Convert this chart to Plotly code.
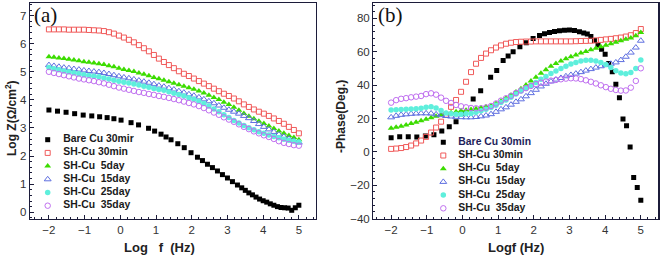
import plotly.graph_objects as go

W, H = 661, 257

# ---------------- data ----------------
logf = [-2.00, -1.86, -1.72, -1.58, -1.44, -1.30, -1.16, -1.02, -0.88, -0.74,
        -0.60, -0.46, -0.32, -0.18, -0.04, 0.10, 0.24, 0.38, 0.52, 0.66,
        0.80, 0.94, 1.08, 1.22, 1.36, 1.50, 1.64, 1.78, 1.92, 2.06,
        2.20, 2.34, 2.48, 2.62, 2.76, 2.90, 3.04, 3.18, 3.32, 3.46,
        3.60, 3.74, 3.88, 4.02, 4.16, 4.30, 4.44, 4.58, 4.72, 4.86, 5.00]

logf_bare = [-2.00, -1.76, -1.52, -1.28, -1.04, -0.80, -0.58, -0.37, -0.18, 0.02,
             0.30, 0.51, 0.79, 0.96, 1.14, 1.28, 1.42, 1.61, 1.79, 1.98,
             2.16, 2.30, 2.44, 2.58, 2.72, 2.86, 3.00, 3.14, 3.28, 3.40,
             3.50, 3.60, 3.70, 3.80, 3.90, 4.00, 4.10, 4.20, 4.30, 4.40,
             4.50, 4.60, 4.70, 4.80, 4.90, 5.00]

# (a) Log Z
z_bare = [3.64, 3.60, 3.56, 3.51, 3.46, 3.43, 3.40, 3.37, 3.33, 3.28,
          3.19, 3.11, 2.99, 2.89, 2.78, 2.68, 2.58, 2.44, 2.30, 2.12,
          1.96, 1.84, 1.71, 1.59, 1.47, 1.34, 1.22, 1.09, 0.97, 0.87,
          0.78, 0.69, 0.62, 0.54, 0.47, 0.41, 0.36, 0.30, 0.25, 0.20,
          0.17, 0.16, 0.15, 0.07, 0.16, 0.25]
z_30min = [6.51, 6.51, 6.51, 6.51, 6.50, 6.50, 6.50, 6.50, 6.49, 6.48,
           6.47, 6.45, 6.41, 6.36, 6.29, 6.22, 6.14, 6.05, 5.95, 5.84,
           5.73, 5.60, 5.47, 5.35, 5.24, 5.13, 5.02, 4.93, 4.85, 4.76,
           4.67, 4.58, 4.49, 4.40, 4.31, 4.22, 4.14, 4.05, 3.95, 3.84,
           3.75, 3.66, 3.58, 3.51, 3.43, 3.34, 3.25, 3.15, 3.04, 2.93, 2.81]
z_5day = [5.54, 5.52, 5.49, 5.47, 5.45, 5.42, 5.39, 5.36, 5.34, 5.31,
          5.29, 5.26, 5.22, 5.18, 5.13, 5.08, 5.05, 5.01, 4.96, 4.91,
          4.86, 4.80, 4.75, 4.70, 4.65, 4.59, 4.54, 4.49, 4.43, 4.38,
          4.32, 4.25, 4.17, 4.09, 4.01, 3.92, 3.84, 3.74, 3.63, 3.52,
          3.42, 3.33, 3.24, 3.16, 3.07, 2.98, 2.89, 2.81, 2.73, 2.66, 2.58]
z_15day = [5.24, 5.21, 5.18, 5.15, 5.13, 5.10, 5.08, 5.05, 5.03, 5.01,
           4.99, 4.96, 4.92, 4.88, 4.84, 4.80, 4.77, 4.73, 4.69, 4.65,
           4.61, 4.56, 4.51, 4.47, 4.42, 4.37, 4.31, 4.26, 4.20, 4.15,
           4.09, 4.02, 3.95, 3.88, 3.80, 3.72, 3.65, 3.58, 3.51, 3.43,
           3.35, 3.25, 3.14, 3.04, 2.95, 2.86, 2.77, 2.69, 2.62, 2.55, 2.48]
z_25day = [5.15, 5.11, 5.07, 5.03, 5.00, 4.97, 4.93, 4.90, 4.87, 4.84,
           4.82, 4.78, 4.74, 4.70, 4.66, 4.63, 4.60, 4.57, 4.53, 4.49,
           4.45, 4.41, 4.37, 4.34, 4.29, 4.24, 4.19, 4.14, 4.08, 4.02,
           3.95, 3.87, 3.78, 3.68, 3.58, 3.47, 3.37, 3.27, 3.18, 3.09,
           3.01, 2.94, 2.87, 2.81, 2.75, 2.70, 2.65, 2.60, 2.56, 2.53, 2.50]
z_35day = [5.00, 4.96, 4.92, 4.88, 4.84, 4.80, 4.76, 4.73, 4.70, 4.67,
           4.63, 4.59, 4.54, 4.49, 4.44, 4.40, 4.36, 4.32, 4.28, 4.25,
           4.21, 4.18, 4.14, 4.11, 4.07, 4.03, 3.99, 3.94, 3.89, 3.84,
           3.78, 3.71, 3.63, 3.55, 3.47, 3.38, 3.30, 3.22, 3.13, 3.04,
           2.96, 2.88, 2.81, 2.74, 2.68, 2.61, 2.53, 2.47, 2.43, 2.39, 2.37]

# (b) -Phase
ph_bare = [8.5, 9.1, 9.1, 8.9, 9.5, 10.3, 12.5, 15.1, 18.1, 23.1,
           31.7, 36.7, 44.7, 48.7, 54.7, 57.4, 60.0, 63.0, 65.4, 68.0,
           69.8, 70.8, 71.6, 72.2, 72.6, 72.9, 73.0, 72.7, 72.0, 71.3,
           70.6, 69.2, 66.8, 64.0, 61.5, 58.5, 53.0, 48.0, 40.5, 32.5,
           19.7, 15.7, 3.0, -15.4, -21.4, -29.0]
ph_30min = [1.8, 2.0, 2.3, 2.9, 3.8, 5.1, 6.8, 9.0, 11.6, 14.6,
            18.1, 22.3, 27.0, 31.1, 36.0, 42.0, 47.8, 52.8, 56.3, 58.9,
            60.9, 62.5, 63.8, 64.8, 65.4, 65.8, 66.0, 66.1, 66.1, 66.2,
            66.2, 66.2, 66.2, 66.2, 66.2, 66.2, 66.2, 66.3, 66.4, 66.5,
            66.6, 66.8, 67.1, 67.4, 67.7, 68.1, 68.5, 69.1, 69.9, 71.2, 73.6]
ph_5day = [14.1, 14.7, 15.3, 16.1, 17.0, 17.8, 18.7, 19.6, 20.5, 21.4,
           22.2, 23.0, 23.5, 24.1, 24.6, 25.0, 25.4, 25.9, 26.4, 27.0,
           27.7, 29.0, 30.5, 32.1, 33.9, 35.9, 37.9, 40.1, 42.4, 44.7,
           47.1, 49.2, 51.3, 53.0, 54.5, 55.8, 57.0, 58.1, 59.2, 60.2,
           61.2, 62.1, 63.0, 63.9, 64.8, 65.7, 66.6, 67.5, 68.3, 69.6, 71.6]
ph_15day = [20.7, 21.6, 22.2, 22.5, 22.8, 23.0, 23.1, 23.1, 23.0, 22.5,
            22.0, 21.5, 21.2, 21.0, 20.8, 20.7, 20.7, 20.9, 21.3, 21.8,
            22.6, 24.0, 25.5, 26.7, 28.3, 30.0, 31.5, 33.3, 35.2, 37.2,
            39.2, 40.8, 42.2, 43.3, 44.3, 45.3, 46.1, 46.9, 47.8, 48.7,
            49.6, 50.5, 51.3, 52.0, 52.8, 53.6, 55.0, 57.0, 59.5, 62.5, 66.6]
ph_25day = [25.1, 25.2, 25.4, 25.5, 25.7, 25.9, 26.1, 26.7, 27.0, 26.3,
            24.8, 23.3, 22.8, 22.5, 22.6, 22.8, 23.0, 23.7, 24.6, 25.6,
            26.6, 27.9, 29.6, 31.1, 32.8, 34.7, 36.5, 38.2, 39.8, 41.6,
            43.5, 45.2, 46.9, 48.4, 49.9, 51.3, 52.6, 53.6, 54.4, 54.9,
            54.9, 54.5, 53.6, 52.3, 50.5, 48.6, 47.3, 46.8, 47.5, 50.0, 55.0]
ph_35day = [29.5, 31.0, 31.8, 32.2, 32.7, 33.1, 33.5, 34.6, 35.1, 34.3,
            32.5, 30.6, 29.3, 28.1, 27.3, 26.7, 26.3, 26.1, 26.1, 26.6,
            27.5, 29.0, 30.7, 32.1, 33.6, 35.3, 36.8, 38.2, 39.5, 40.6,
            41.4, 42.1, 42.7, 43.1, 43.5, 43.9, 44.1, 44.0, 43.6, 42.9,
            42.0, 41.0, 39.9, 38.8, 37.8, 37.1, 36.7, 36.8, 38.5, 42.5, 50.1]

names_a = ["Bare Cu 30mir", "SH-Cu 30min", "SH-Cu\u00a0 5day",
           "SH-Cu\u00a0 15day", "SH-Cu\u00a0 25day", "SH-Cu\u00a0 35day"]
names_b = ["Bare Cu 30min", "SH-Cu 30min", "SH-Cu\u00a0 5day",
           "SH-Cu\u00a0 15day", "SH-Cu\u00a0 25day", "SH-Cu\u00a0 35day"]
x_ticks = [-2, -1, 0, 1, 2, 3, 4, 5]
ya_ticks = [0, 1, 2, 3, 4, 5, 6, 7]
yb_ticks = [-40, -20, 0, 20, 40, 60, 80]

# ---------------- styles ----------------
styles = [
    dict(symbol="square", color="#000000", size=5, line=dict(width=0)),
    dict(symbol="square-open", color="#f05a5a", size=5, line=dict(width=1)),
    dict(symbol="triangle-up", color="#3cdc00", size=6, line=dict(width=0)),
    dict(symbol="triangle-up-open", color="#5f6fe0", size=6, line=dict(width=1)),
    dict(symbol="circle", color="#5eefdc", size=5.5, line=dict(width=0)),
    dict(symbol="circle-open", color="#c070f0", size=5.5, line=dict(width=1)),
]

series_a = [(logf_bare, z_bare), (logf, z_30min), (logf, z_5day),
            (logf, z_15day), (logf, z_25day), (logf, z_35day)]
series_b = [(logf_bare, ph_bare), (logf, ph_30min), (logf, ph_5day),
            (logf, ph_15day), (logf, ph_25day), (logf, ph_35day)]

fig = go.Figure()

for (xs, ys), st, nm in zip(series_a, styles, names_a):
    fig.add_trace(go.Scatter(x=xs, y=ys, mode="markers", name=nm, marker=st,
                             xaxis="x", yaxis="y", showlegend=False))
for (xs, ys), st, nm in zip(series_b, styles, names_b):
    fig.add_trace(go.Scatter(x=xs, y=ys, mode="markers", name=nm, marker=st,
                             xaxis="x2", yaxis="y2", showlegend=False))

# ---------------- legends (row index on hidden overlay axes) ----------------
rows = list(range(len(names_a)))
for i, st in enumerate(styles):
    fig.add_trace(go.Scatter(x=[0], y=[rows[i]], mode="markers", marker=st,
                             xaxis="x3", yaxis="y3", showlegend=False, hoverinfo="skip"))
    fig.add_trace(go.Scatter(x=[0], y=[rows[i]], mode="markers", marker=st,
                             xaxis="x4", yaxis="y4", showlegend=False, hoverinfo="skip"))
fig.add_trace(go.Scatter(x=[1] * len(rows), y=rows, mode="text",
                         text=["<b>%s</b>" % n for n in names_a],
                         textposition="middle right",
                         textfont=dict(family="Liberation Sans, Arial", size=10.4,
                                       color="#1a1a1a"),
                         cliponaxis=False,
                         xaxis="x3", yaxis="y3", showlegend=False, hoverinfo="skip"))
fig.add_trace(go.Scatter(x=[1] * len(rows), y=rows, mode="text",
                         text=["<b>%s</b>" % n for n in names_b],
                         textposition="middle right",
                         textfont=dict(family="Liberation Sans, Arial", size=10.4,
                                       color=["#1e1e5a"] + ["#1a1a1a"] * 5),
                         cliponaxis=False,
                         xaxis="x4", yaxis="y4", showlegend=False, hoverinfo="skip"))

# ---------------- layout ----------------
def px_x(p):
    return p / W

def px_y(p):
    return 1 - p / H

AX_COL = "#1c1c3a"
TICKFONT = dict(family="Liberation Sans, Arial", size=11.5, color="#333333")

def axis_common(**kw):
    d = dict(showline=True, linecolor=AX_COL, linewidth=1.3, mirror=True,
             ticks="inside", ticklen=4, tickwidth=1, tickcolor=AX_COL,
             showgrid=False, zeroline=False, tickfont=TICKFONT, automargin=False)
    d.update(kw)
    return d

LA_L, LA_R, TOP, BOT = 30, 316, 3, 219
RB_L, RB_R = 373.3, 658.3

# legend axes geometry (pixel positions of rows / marker / text start)
def leg_axes(dom_l, dom_r, mark_px, text_px, row0_px, row_step):
    unit = text_px - mark_px
    xr = [-(mark_px - dom_l) / unit, -(mark_px - dom_l) / unit + (dom_r - dom_l) / unit]
    yr = [(BOT - row0_px) / row_step, (TOP - row0_px) / row_step]
    return xr, yr

xr3, yr3 = leg_axes(LA_L, LA_R, 47.7, 63.3, 139.7, 13.2)
xr4, yr4 = leg_axes(RB_L, RB_R, 443.3, 458.3, 142.3, 13.2)

fig.update_layout(
    width=W, height=H,
    margin=dict(l=0, r=0, t=0, b=0, pad=0),
    paper_bgcolor="white", plot_bgcolor="white",
    xaxis=axis_common(domain=[px_x(LA_L), px_x(LA_R)], range=[-2.53, 5.48],
                      tickvals=x_ticks, anchor="y",
                      minor=dict(dtick=0.2, tick0=0, ticklen=2, ticks="inside",
                                 tickcolor=AX_COL)),
    yaxis=axis_common(domain=[px_y(BOT), px_y(TOP)], range=[-0.24, 7.45],
                      tickvals=ya_ticks, anchor="x",
                      minor=dict(dtick=0.2, tick0=0, ticklen=2, ticks="inside",
                                 tickcolor=AX_COL)),
    xaxis2=axis_common(domain=[px_x(RB_L), px_x(RB_R)], range=[-2.5, 5.49],
                       tickvals=x_ticks, anchor="y2",
                       minor=dict(dtick=0.2, tick0=0, ticklen=2, ticks="inside",
                                  tickcolor=AX_COL)),
    yaxis2=axis_common(domain=[px_y(BOT), px_y(TOP)], range=[-40.2, 89.2],
                       tickvals=yb_ticks, anchor="x2",
                       minor=dict(dtick=4, tick0=0, ticklen=2, ticks="inside",
                                  tickcolor=AX_COL)),
    xaxis3=dict(overlaying="x", anchor="y3", range=xr3, visible=False),
    yaxis3=dict(overlaying="y", anchor="x3", range=yr3, visible=False),
    xaxis4=dict(overlaying="x2", anchor="y4", range=xr4, visible=False),
    yaxis4=dict(overlaying="y2", anchor="x4", range=yr4, visible=False),
    showlegend=False,
)

TITLEFONT = dict(family="Liberation Sans, Arial", size=13, color="#222222")
YTFONT = dict(family="Liberation Sans, Arial", size=12, color="#222222")
ann = [
    dict(text="<b>Log\u00a0\u00a0 f\u00a0 (Hz)</b>", x=px_x(159), y=px_y(247.7), font=TITLEFONT),
    dict(text="<b>Logf (Hz)</b>", x=px_x(516), y=px_y(247.7), font=TITLEFONT),
    dict(text="<b>Log Z(\u03a9/cm<sup>2</sup>)</b>", x=px_x(11), y=px_y(118),
         textangle=-90, font=YTFONT),
    dict(text="<b>-Phase(Deg.)</b>", x=px_x(341), y=px_y(117),
         textangle=-90, font=YTFONT),
]
for a in ann:
    fig.add_annotation(xref="paper", yref="paper", showarrow=False,
                       xanchor="center", yanchor="middle", **a)

PFONT = dict(family="Liberation Serif, Times New Roman", size=21, color="#111111")
fig.add_annotation(text="(a)", xref="paper", yref="paper", x=px_x(32), y=px_y(1),
                   xanchor="left", yanchor="top", showarrow=False, font=PFONT)
fig.add_annotation(text="(b)", xref="paper", yref="paper", x=px_x(376), y=px_y(1),
                   xanchor="left", yanchor="top", showarrow=False, font=PFONT)

# remove the default 8px page margin so the figure sits at the window origin
fig.write_html("out.html",
               config={"displayModeBar": False, "staticPlot": True},
               post_script="document.body.style.margin='0px';"
                           "document.body.style.overflow='hidden';")
